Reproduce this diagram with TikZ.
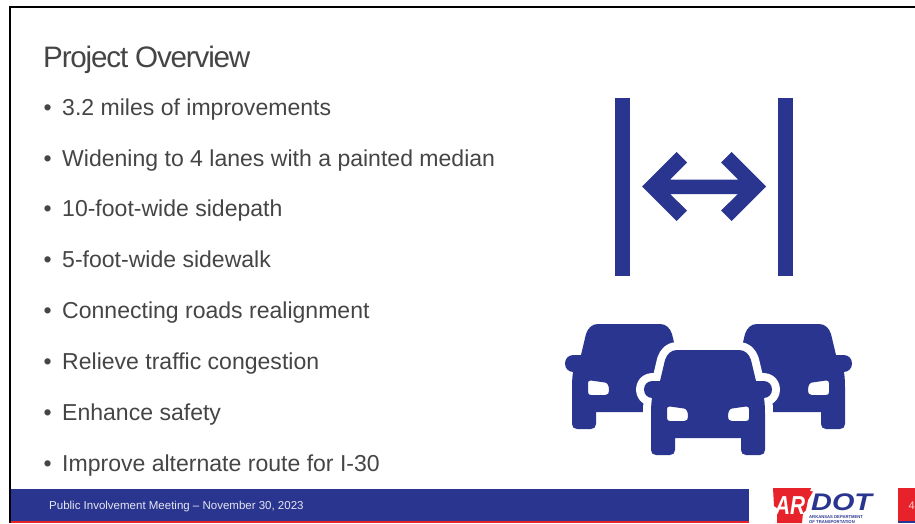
\documentclass[tikz,border=0pt]{standalone}
\usepackage{graphicx}
\usepackage{fontspec}
\setmainfont{Liberation Sans}
\definecolor{navy}{HTML}{2A3590}
\definecolor{arred}{HTML}{E8222A}
\definecolor{bodytxt}{HTML}{454545}
\newcommand{\carpath}{
      (-31,0) .. controls (-37,0) and (-41,4) .. (-43,10) -- (-48,31) -- (-55.5,31)
      .. controls (-60.5,31) and (-64,34.5) .. (-64,39.5) .. controls (-64,44.5) and (-60.5,48) .. (-55.5,48)
      -- (-56,48) .. controls (-57,55) and (-57,60) .. (-57,66) -- (-57,100)
      .. controls (-57,103) and (-55,105) .. (-52,105) -- (-38,105)
      .. controls (-35,105) and (-33,103) .. (-33,100) -- (-33,88) -- (33,88) -- (33,100)
      .. controls (33,103) and (35,105) .. (38,105) -- (52,105)
      .. controls (55,105) and (57,103) .. (57,100) -- (57,66)
      .. controls (57,60) and (57,55) .. (56,48) -- (55.5,48)
      .. controls (60.5,48) and (64,44.5) .. (64,39.5) .. controls (64,34.5) and (60.5,31) .. (55.5,31)
      -- (48,31) -- (43,10) .. controls (41,4) and (37,0) .. (31,0) -- cycle
}
\newcommand{\carlights}{
      (-41,59) .. controls (-41,57) and (-40,56.5) .. (-38,56.5) -- (-24,58.5)
      .. controls (-21,59) and (-20,62) .. (-20,67) .. controls (-20,69.5) and (-21,71) .. (-24,71)
      -- (-38,71) .. controls (-40,71) and (-41,70) .. (-41,68) -- cycle
      (41,59) .. controls (41,57) and (40,56.5) .. (38,56.5) -- (24,58.5)
      .. controls (21,59) and (20,62) .. (20,67) .. controls (20,69.5) and (21,71) .. (24,71)
      -- (38,71) .. controls (40,71) and (41,70) .. (41,68) -- cycle
}
\tikzset{
  bullettext/.style={anchor=base west,inner sep=0pt,text=bodytxt,font=\fontsize{23.04}{25}\selectfont},
  carfill/.style={fill=navy,even odd rule},
  carhalo/.style={fill=white,draw=white,line width=16pt,line join=round},
  logotext/.style={anchor=base west,inner sep=0pt,text=navy,font=\fontsize{4.2}{5}\selectfont\bfseries}
}
\begin{document}
\begin{tikzpicture}[x=1pt,y=-1pt]
\useasboundingbox (0,0) rectangle (915,523);
% frame
\fill[white] (0,0) rectangle (915,523);
\fill[black] (8.5,5.5) rectangle (915,8);
\fill[black] (8.5,5.5) rectangle (11,523);
% title
\node[anchor=base west,inner sep=0pt,text=bodytxt,font=\fontsize{29.6}{31}\selectfont\addfontfeature{LetterSpace=-4}] (title) at (43,67) {Project Overview};
% bullets
\foreach \n/\y/\t in {a/115/3.2 miles of improvements,
  b/166/Widening to 4 lanes with a painted median,
  c/216/10-foot-wide sidepath,
  d/267/5-foot-wide sidewalk,
  e/318/Connecting roads realignment,
  f/369/Relieve traffic congestion,
  g/420/Enhance safety,
  h/471/Improve alternate route for I-30}{
  \node[bullettext] (mark\n) at (43.5,\y) {•};
  \node[bullettext] (item\n) at (62,\y) {\t};
}
% width icon
\fill[navy] (615,98) rectangle (630,276);
\fill[navy] (778,98) rectangle (793,276);
\fill[navy] (642,186.5) -- (676.5,152) -- (687,162.5) -- (670,179.5) -- (738,179.5) -- (721,162.5) -- (731.5,152)
  -- (766,186.5) -- (731.5,221) -- (721,210.5) -- (738,194) -- (670,194) -- (687,210.5) -- (676.5,221) -- cycle;
% cars
\begin{scope}[shift={(629,324)}]\path[carfill] \carpath \carlights;\end{scope}
\begin{scope}[shift={(788,324)}]\path[carfill] \carpath \carlights;\end{scope}
\begin{scope}[shift={(708,350)}]
  \path[carhalo] \carpath;
  \path[carfill] \carpath \carlights;
\end{scope}
% footer
\fill[navy] (11,489) rectangle (749,521);
\fill[arred] (11,521) rectangle (749,523);
\node[anchor=base west,inner sep=0pt,text=white!88!navy,font=\fontsize{11.5}{13}\selectfont] (foot) at (49,509) {Public Involvement Meeting – November 30, 2023};
\fill[arred] (898,488) rectangle (915,521);
\fill[navy] (898,521) rectangle (915,523);
\node[anchor=base west,inner sep=0pt,text=white!80!arred,font=\fontsize{11}{13}\selectfont] (pagenum) at (908.5,509) {4};
% logo
\fill[arred] (773,488) -- (811,488) -- (810,491) -- (813,491.5) -- (808,500) -- (806,510) -- (803,513) -- (802,523) -- (777,523) -- (777,508) -- (774,506) -- cycle;
\node[anchor=base west,inner sep=0pt,text=white,font=\fontsize{26}{27}\selectfont\itshape\bfseries] (ar) at (775,514) {\scalebox{0.8}[1]{AR}};
\node[anchor=base west,inner sep=0pt,text=navy,font=\fontsize{24}{25}\selectfont\bfseries\itshape] (dot) at (811,510) {\scalebox{1.2}[1]{DOT}};
\node[logotext] (dept) at (809,518) {ARKANSAS DEPARTMENT};
\node[logotext] (dept2) at (809,523) {OF TRANSPORTATION};
\end{tikzpicture}
\end{document}
